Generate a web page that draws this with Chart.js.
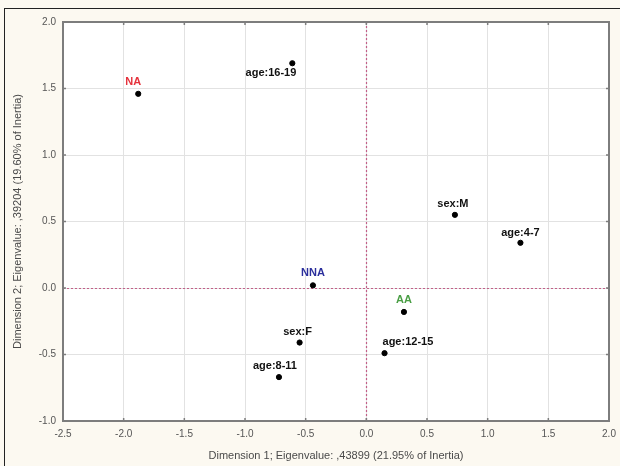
<!DOCTYPE html>
<html>
<head>
<meta charset="utf-8">
<script src="https://cdn.jsdelivr.net/npm/chart.js@4/dist/chart.umd.min.js"></script>
<style>
  html, body { margin: 0; padding: 0; background: #fcf9f1; }
  #wrap { position: relative; width: 620px; height: 466px; overflow: hidden; }
  #frame { position: absolute; left: 4px; top: 8px; width: 640px; height: 480px;
           border-left: 1.5px solid #222; border-top: 1.5px solid #222; }
  canvas { position: absolute; left: 0; top: 0; }
</style>
</head>
<body>
<div id="wrap">
  <div id="frame"></div>
  <canvas id="c" width="620" height="466"></canvas>
</div>
<script>
// Correspondence analysis: category coordinates on the first two dimensions
const categories = ['NA', 'age:16-19', 'sex:M', 'age:4-7', 'NNA', 'AA', 'sex:F', 'age:12-15', 'age:8-11'];
const dim1 = [-1.88, -0.61, 0.73, 1.27, -0.44, 0.31, -0.55, 0.15, -0.72];
const dim2 = [1.46, 1.69, 0.55, 0.34, 0.02, -0.18, -0.41, -0.49, -0.67];

const xTicks = [-2.5, -2.0, -1.5, -1.0, -0.5, 0.0, 0.5, 1.0, 1.5, 2.0];
const yTicks = [-1.0, -0.5, 0.0, 0.5, 1.0, 1.5, 2.0];

const xTitle = 'Dimension 1; Eigenvalue: ,43899 (21.95% of Inertia)';
const yTitle = 'Dimension 2; Eigenvalue: ,39204 (19.60% of Inertia)';

// label styling: colour, alignment and offset from the point (px)
const labelStyle = {
  'NA':        { color: '#e5323c', align: 'center', dx: -5, dy: -12 },
  'NNA':       { color: '#2b2f9c', align: 'center', dx: 0,  dy: -12 },
  'AA':        { color: '#4a9e45', align: 'center', dx: 0,  dy: -12 },
  'age:16-19': { color: '#111',    align: 'right',  dx: 4,  dy: 10 },
  'age:12-15': { color: '#111',    align: 'left',   dx: -2, dy: -11 },
  'age:8-11':  { color: '#111',    align: 'center', dx: -4, dy: -11 },
  'sex:M':     { color: '#111',    align: 'center', dx: -2, dy: -11 },
  'sex:F':     { color: '#111',    align: 'center', dx: -2, dy: -11 },
  'age:4-7':   { color: '#111',    align: 'center', dx: 0,  dy: -10 }
};

const points = categories.map((c, i) => ({ x: dim1[i], y: dim2[i], name: c }));

const plotDecor = {
  id: 'plotDecor',
  beforeDatasetsDraw(chart) {
    const { ctx, chartArea: a, scales: { x, y } } = chart;
    ctx.save();
    // dotted reference lines through the origin
    ctx.strokeStyle = '#c25f88';
    ctx.lineWidth = 1.2;
    ctx.setLineDash([2, 2]);
    const x0 = Math.round(x.getPixelForValue(0)) + 0.5;
    const y0 = Math.round(y.getPixelForValue(0)) + 0.5;
    ctx.beginPath();
    ctx.moveTo(x0, a.top); ctx.lineTo(x0, a.bottom);
    ctx.moveTo(a.left, y0); ctx.lineTo(a.right, y0);
    ctx.stroke();
    ctx.setLineDash([]);
    // frame round the plot area
    ctx.strokeStyle = '#7d7d7d';
    ctx.lineWidth = 2;
    ctx.strokeRect(a.left, a.top, a.right - a.left, a.bottom - a.top);
    // small tick marks on the frame
    ctx.lineWidth = 1.5;
    ctx.beginPath();
    xTicks.forEach(v => {
      const px = x.getPixelForValue(v);
      ctx.moveTo(px, a.top); ctx.lineTo(px, a.top + 3);
      ctx.moveTo(px, a.bottom); ctx.lineTo(px, a.bottom - 3);
    });
    yTicks.forEach(v => {
      const py = y.getPixelForValue(v);
      ctx.moveTo(a.left, py); ctx.lineTo(a.left + 3, py);
      ctx.moveTo(a.right, py); ctx.lineTo(a.right - 3, py);
    });
    ctx.stroke();
    ctx.restore();
  },
  afterDatasetsDraw(chart) {
    const { ctx } = chart;
    const meta = chart.getDatasetMeta(0);
    ctx.save();
    ctx.font = 'bold 11px "Liberation Sans", Arial, sans-serif';
    ctx.textBaseline = 'middle';
    meta.data.forEach((el, i) => {
      const name = categories[i];
      const s = labelStyle[name];
      ctx.fillStyle = s.color;
      ctx.textAlign = s.align;
      ctx.fillText(name, el.x + s.dx, el.y + s.dy);
    });
    ctx.restore();
  }
};

new Chart(document.getElementById('c'), {
  type: 'scatter',
  data: {
    datasets: [{
      data: points,
      backgroundColor: '#000',
      borderColor: '#000',
      pointRadius: 2.6,
      pointHoverRadius: 2.6
    }]
  },
  options: {
    responsive: false,
    animation: false,
    events: [],
    layout: { padding: { left: 0, top: 22, right: 11, bottom: 0 } },
    plugins: { legend: { display: false }, tooltip: { enabled: false } },
    scales: {
      x: {
        type: 'linear',
        min: -2.5, max: 2.0,
        afterBuildTicks(scale) { scale.ticks = xTicks.map(v => ({ value: v })); },
        afterFit(scale) { scale.height = 45; scale.paddingRight = 0; scale.paddingLeft = 0; },
        grid: { color: '#e2e2e2', lineWidth: 1, drawTicks: false },
        border: { display: false },
        ticks: {
          padding: 7,
          color: '#555',
          font: { family: '"Liberation Sans", Arial, sans-serif', size: 10 },
          callback: v => v.toFixed(1)
        },
        title: {
          display: true, text: xTitle, color: '#4a4a4a',
          font: { family: '"Liberation Sans", Arial, sans-serif', size: 11 },
          padding: { top: 0, bottom: 3 }
        }
      },
      y: {
        type: 'linear',
        min: -1.0, max: 2.0,
        afterBuildTicks(scale) { scale.ticks = yTicks.map(v => ({ value: v })); },
        afterFit(scale) { scale.width = 63; },
        grid: { color: '#e2e2e2', lineWidth: 1, drawTicks: false },
        border: { display: false },
        ticks: {
          padding: 7,
          color: '#555',
          font: { family: '"Liberation Sans", Arial, sans-serif', size: 10 },
          callback: v => v.toFixed(1)
        },
        title: {
          display: true, text: yTitle, color: '#4a4a4a',
          font: { family: '"Liberation Sans", Arial, sans-serif', size: 11 },
          padding: { top: 11, bottom: 0 }
        }
      }
    }
  },
  plugins: [plotDecor, {
    id: 'plotBg',
    beforeDraw(chart) {
      const { ctx, chartArea: a } = chart;
      ctx.save();
      ctx.fillStyle = '#ffffff';
      ctx.fillRect(a.left, a.top, a.right - a.left, a.bottom - a.top);
      ctx.restore();
    }
  }]
});
</script>
</body>
</html>
